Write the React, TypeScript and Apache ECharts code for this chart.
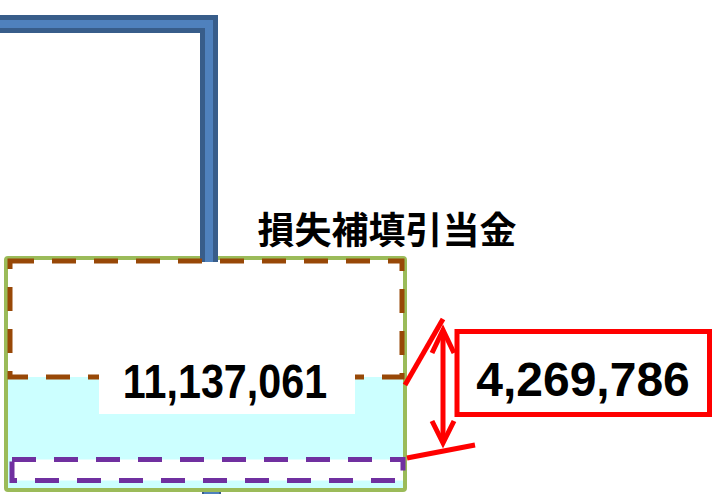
import React, { useEffect, useRef } from "react";
import * as echarts from "echarts";

const titles = ["損失補填引当金"];
const values = [11137061, 4269786];
const fmt = (v: number) => v.toLocaleString("en-US");

export default function App() {
  const ref = useRef<HTMLDivElement>(null);
  useEffect(() => {
    document.body.style.margin = "0";
    const chart = echarts.init(ref.current!, undefined, { renderer: "svg" });
    const brown = "#984807";
    const purple = "#7030A0";
    const red = "#FF0000";
    chart.setOption({
      animation: false,
      backgroundColor: "#ffffff",
      graphic: [
        // bottom blue stub
        { type: "rect", z: 1, shape: { x: 203, y: 486, width: 17, height: 10 }, style: { fill: "#4F81BD", stroke: "#385D8A", lineWidth: 2 } },
        // green container
        { type: "rect", z: 2, shape: { x: 6, y: 258, width: 399, height: 232, r: 2 }, style: { fill: "#ffffff", stroke: "#9BBB59", lineWidth: 4 } },
        // cyan fill
        { type: "rect", z: 3, shape: { x: 8, y: 377, width: 395, height: 111 }, style: { fill: "#CCFFFF" } },
        // blue pipe
        { type: "polyline", z: 4, shape: { points: [[-10, 24], [209, 24], [209, 262]] }, style: { stroke: "#385D8A", lineWidth: 18, lineJoin: "miter", fill: null } },
        { type: "polyline", z: 5, shape: { points: [[-10, 24], [209, 24], [209, 262]] }, style: { stroke: "#4F81BD", lineWidth: 8, lineJoin: "miter", fill: null } },
        // brown dashed rect
        { type: "rect", z: 6, shape: { x: 10, y: 261, width: 392, height: 116 }, style: { fill: null, stroke: brown, lineWidth: 5, lineDash: [24, 18] } },
        // white label box
        { type: "rect", z: 7, shape: { x: 99, y: 372, width: 256, height: 42 }, style: { fill: "#ffffff" } },
        { type: "text", z: 8, x: 225, y: 381, scaleX: 0.86, style: { text: fmt(values[0]), font: "bold 48px 'Liberation Sans', Arial, sans-serif", fill: "#000000", align: "center", verticalAlign: "middle" } },
        // purple dashed rect
        { type: "rect", z: 6, shape: { x: 12, y: 459.5, width: 391, height: 21 }, style: { fill: "#ffffff", stroke: purple, lineWidth: 5, lineDash: [24, 18] } },
        // title
        { type: "text", z: 8, x: 387, y: 228, style: { text: titles[0], font: "bold 37px 'Noto Sans CJK JP', sans-serif", fill: "#000000", align: "center", verticalAlign: "middle" } },
        // red box
        { type: "rect", z: 8, shape: { x: 457, y: 331.5, width: 252.5, height: 83 }, style: { fill: "#ffffff", stroke: red, lineWidth: 5 } },
        { type: "text", z: 9, x: 583, y: 379, style: { text: fmt(values[1]), font: "bold 48px 'Liberation Sans', Arial, sans-serif", fill: "#000000", align: "center", verticalAlign: "middle" } },
        // red guide lines
        { type: "line", z: 8, shape: { x1: 405, y1: 385, x2: 443, y2: 319 }, style: { stroke: red, lineWidth: 5 } },
        { type: "line", z: 8, shape: { x1: 407, y1: 458, x2: 475, y2: 445 }, style: { stroke: red, lineWidth: 5 } },
        // double arrow
        { type: "line", z: 8, shape: { x1: 443, y1: 331, x2: 443, y2: 442 }, style: { stroke: red, lineWidth: 5 } },
        { type: "polyline", z: 8, shape: { points: [[432, 353], [443, 330], [454, 353]] }, style: { stroke: red, lineWidth: 5, fill: null } },
        { type: "polyline", z: 8, shape: { points: [[432, 421], [443, 443], [454, 421]] }, style: { stroke: red, lineWidth: 5, fill: null } },
      ],
    });
    return () => chart.dispose();
  }, []);
  return <div ref={ref} style={{ position: "fixed", left: 0, top: 0, width: 713, height: 494 }} />;
}
